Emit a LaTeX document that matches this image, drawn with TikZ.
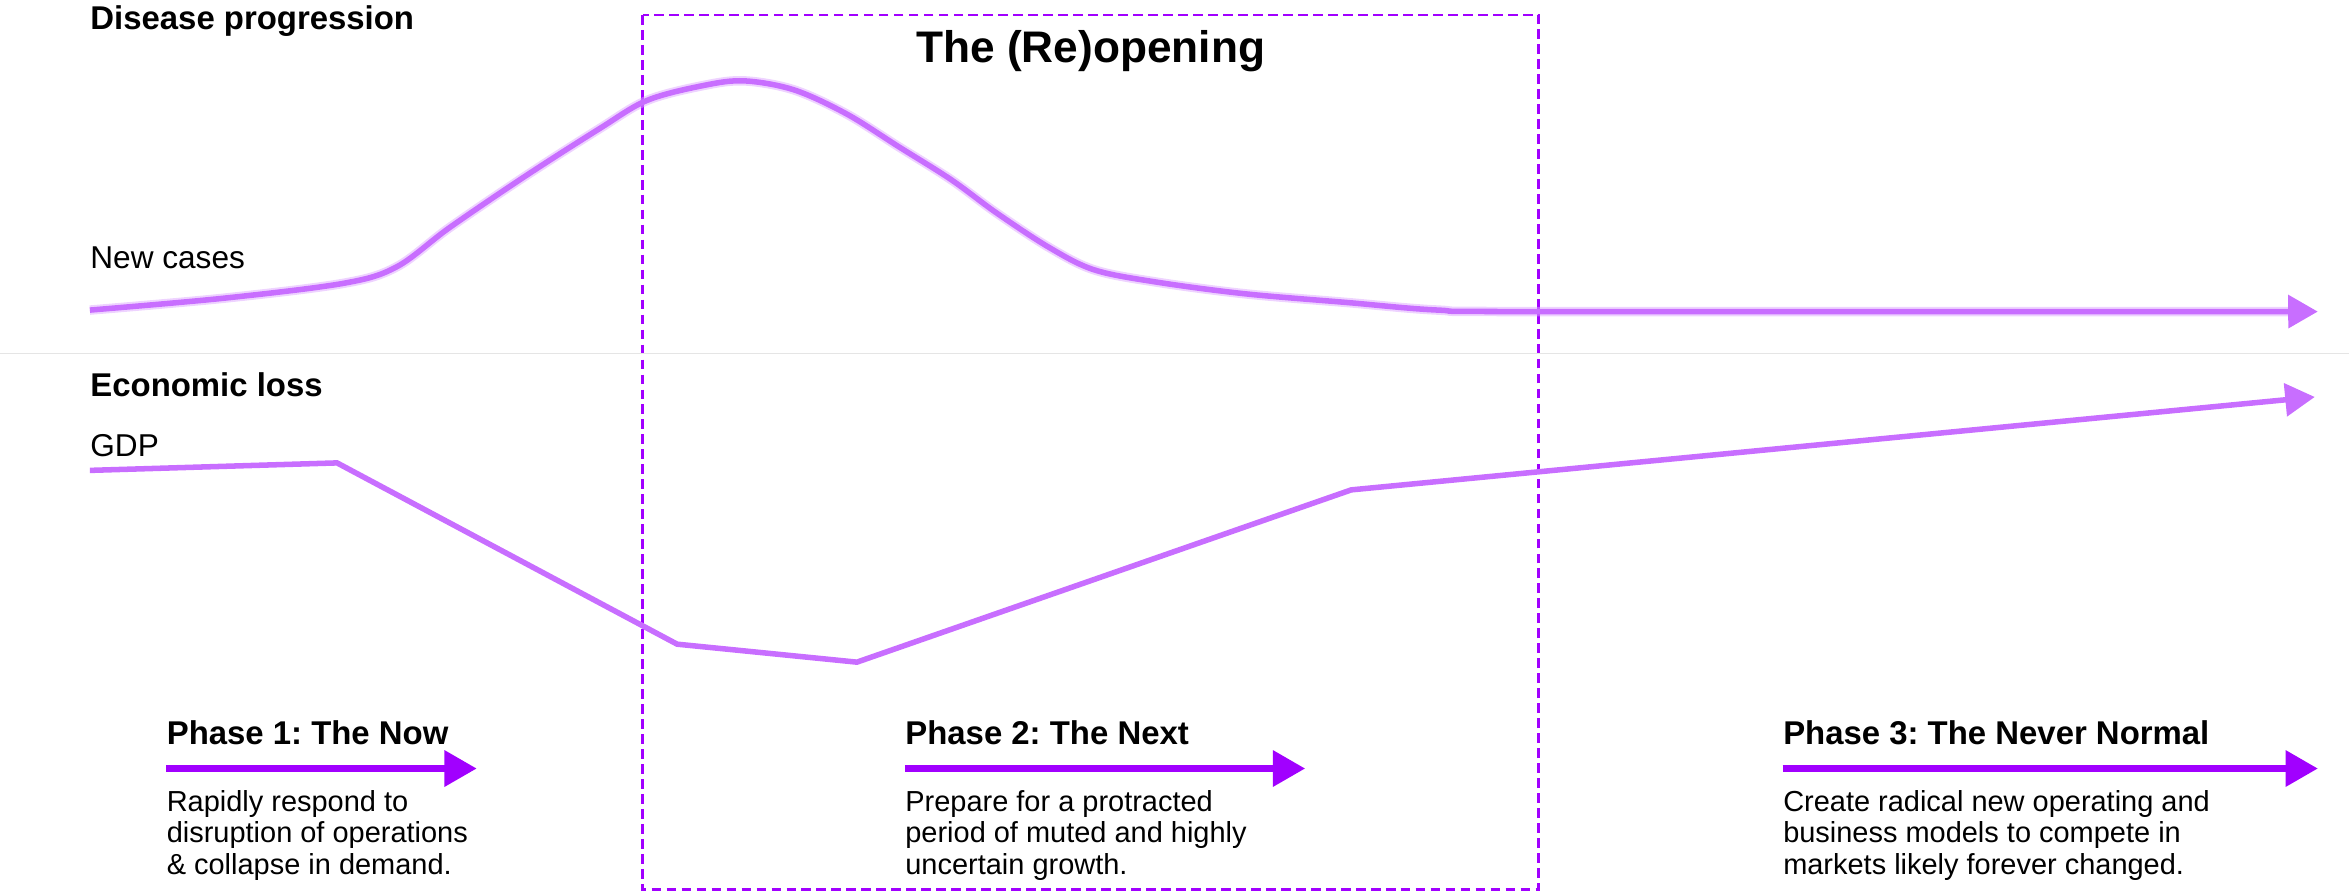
\documentclass[tikz,border=0pt]{standalone}
\usepackage{fontspec}
\setmainfont{Liberation Sans}
\usetikzlibrary{arrows,positioning}
\definecolor{acnpurple}{RGB}{161,0,255}
\definecolor{lilac}{RGB}{200,110,255}
\frenchspacing
\tikzstyle{heading} = [font=\bfseries\fontsize{12.5pt}{14pt}\selectfont, inner sep=0pt, anchor=base west]
\tikzstyle{axis name} = [font=\fontsize{12pt}{14pt}\selectfont, inner sep=0pt, anchor=base west]
\tikzstyle{desc} = [font=\fontsize{11pt}{12pt}\selectfont, align=left, inner sep=0pt, anchor=north west]
\tikzstyle{phase arrow} = [->, >=triangle 60, draw=acnpurple, line width=2.4pt]
\tikzstyle{trend} = [->, >=triangle 60, draw=lilac, line width=2.1pt]

\begin{document}
\begin{tikzpicture}[x=0.2mm, y=-0.2mm]
    \useasboundingbox (0,0) rectangle (1568,596);

    % reopening window
    \draw[acnpurple, line width=1.1pt, dash pattern=on 1.3mm off 0.7mm] (429,10) rectangle (1027,594);
    \node[font=\bfseries\fontsize{16.8pt}{18pt}\selectfont, inner sep=0pt, anchor=base] (reopening) at (728,42) {The (Re)opening};

    % panel separator
    \draw[black!10, line width=0.4pt] (0,236) -- (1568,236);

    % disease panel
    \node[heading] (disease) at (60,20) {Disease progression};
    \node[axis name] (cases) at (60,179) {New cases};
    \draw[lilac!60, line width=3.6pt, opacity=0.5] plot[smooth, tension=0.55] coordinates {
        (60,207) (150,199) (230,189) (265,178) (300,152) (350,118) (400,86) (432,67)
        (470,57) (497,54) (530,60) (565,76) (600,98) (635,120) (665,142) (700,165)
        (730,180) (770,188) (830,196) (900,202) (960,207) (1030,208) (1536,208)};
    \draw[trend] plot[smooth, tension=0.55] coordinates {
        (60,207) (150,199) (230,189) (265,178) (300,152) (350,118) (400,86) (432,67)
        (470,57) (497,54) (530,60) (565,76) (600,98) (635,120) (665,142) (700,165)
        (730,180) (770,188) (830,196) (900,202) (960,207) (1030,208) (1547,208)};

    % economic panel
    \node[heading] (economy) at (60,265) {Economic loss};
    \node[axis name] (gdp) at (60,305) {GDP};
    \draw[trend] (60,314) -- (225,309) -- (452,430) -- (572,442) -- (902,327) -- (1545,265);

    % phase 1
    \node[heading] (now) at (111,497) {Phase 1: The Now};
    \coordinate (now start) at (111,513);
    \coordinate (now end) at (318,513);
    \draw[phase arrow] (now start) -- (now end);
    \node[desc] (now text) at (111,527) {Rapidly respond to\\disruption of operations\\\& collapse in demand.};

    % phase 2
    \node[heading] (next) at (604,497) {Phase 2: The Next};
    \coordinate (next start) at (604,513);
    \coordinate (next end) at (871,513);
    \draw[phase arrow] (next start) -- (next end);
    \node[desc] (next text) at (604,527) {Prepare for a protracted\\period of muted and highly\\uncertain growth.};

    % phase 3
    \node[heading] (never) at (1190,497) {Phase 3: The Never Normal};
    \coordinate (never start) at (1190,513);
    \coordinate (never end) at (1547,513);
    \draw[phase arrow] (never start) -- (never end);
    \node[desc] (never text) at (1190,527) {Create radical new operating and\\business models to compete in\\markets likely forever changed.};
\end{tikzpicture}
\end{document}
